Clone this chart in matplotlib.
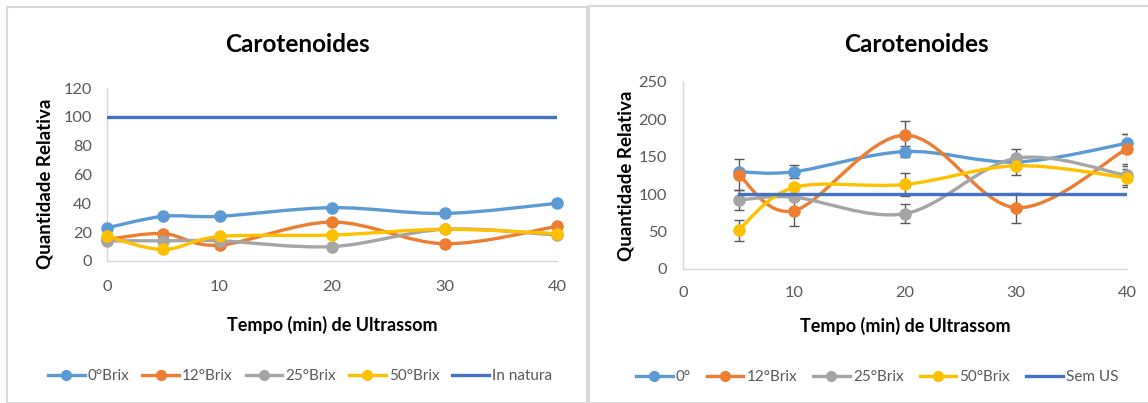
import numpy as np
import matplotlib
matplotlib.use("Agg")
import matplotlib.pyplot as plt
from matplotlib.path import Path
from matplotlib.patches import PathPatch, Rectangle
from matplotlib.lines import Line2D

plt.rcParams['font.family'] = ['Lato', 'DejaVu Sans']

# ---------------- data ----------------
title = "Carotenoides"
xlabel = "Tempo (min) de Ultrassom"
ylabel = "Quantidade Relativa"

left_x = [0, 5, 10, 20, 30, 40]
left_names = ["0°Brix", "12°Brix", "25°Brix", "50°Brix"]
left_vals = {
    "0°Brix": [23, 31, 31, 37, 33, 40],
    "12°Brix": [15, 19, 11, 27, 12, 24],
    "25°Brix": [14, 14, 14, 10, 22, 18],
    "50°Brix": [17, 8, 17, 18, 22, 19],
}
left_ref_name = "In natura"
left_ref_x = [0, 40]
left_ref_y = [100, 100]

right_x = [5, 10, 20, 30, 40]
right_names = ["0°", "12°Brix", "25°Brix", "50°Brix"]
right_vals = {
    "0°": [130, 130, 157, 143, 168],
    "12°Brix": [126, 78, 179, 82, 161],
    "25°Brix": [92, 96, 74, 148, 125],
    "50°Brix": [52, 109, 113, 138, 122],
}
right_err = {
    "0°": [4, 9, 7, 3, 13],
    "12°Brix": [21, 20, 19, 20, 20],
    "25°Brix": [13, 4, 13, 13, 13],
    "50°Brix": [14, 4, 15, 13, 12],
}
right_ref_name = "Sem US"
right_ref_x = [5, 40]
right_ref_y = [100, 100]

colors = ["#5B9BD5", "#ED7D31", "#A5A5A5", "#FFC000"]
ref_color = "#4472C4"
txt_gray = "#595959"
axis_gray = "#D9D9D9"

W, H = 1148, 403
fig = plt.figure(figsize=(W / 100, H / 100), dpi=100)

# panel borders
fig.patches.append(Rectangle((7 / W, 1 - 403 / H), 580 / W, 396 / H, transform=fig.transFigure,
                             fill=False, edgecolor=axis_gray, linewidth=1.5, zorder=0))
fig.patches.append(Rectangle((589 / W, 1 - 403 / H), 600 / W, 397 / H, transform=fig.transFigure,
                             fill=False, edgecolor=axis_gray, linewidth=1.5, zorder=0))


def ax_rect(x0, x1, ytop, ybot):
    return [x0 / W, 1 - ybot / H, (x1 - x0) / W, (ybot - ytop) / H]


def smooth(ax, xs, ys, color, lw=2.4, z=3):
    pts = ax.transData.transform(np.column_stack([xs, ys]))
    n = len(pts)
    verts = [pts[0]]
    codes = [Path.MOVETO]
    for i in range(n - 1):
        p0 = pts[i - 1] if i > 0 else pts[i]
        p1 = pts[i]
        p2 = pts[i + 1]
        p3 = pts[i + 2] if i + 2 < n else pts[i + 1]
        c1 = p1 + (p2 - p0) / 6.0
        c2 = p2 - (p3 - p1) / 6.0
        verts += [c1, c2, p2]
        codes += [Path.CURVE4] * 3
    verts = ax.transData.inverted().transform(np.array(verts))
    ax.add_patch(PathPatch(Path(verts, codes), facecolor="none", edgecolor=color,
                           linewidth=lw, zorder=z, capstyle="round", joinstyle="round"))


def style_axes(ax, xlim, ylim, yticks, xpad, ypad):
    ax.set_xlim(*xlim)
    ax.set_ylim(*ylim)
    ax.set_xticks([0, 10, 20, 30, 40])
    ax.set_yticks(yticks)
    for s in ["top", "right"]:
        ax.spines[s].set_visible(False)
    for s in ["left", "bottom"]:
        ax.spines[s].set_color(axis_gray)
        ax.spines[s].set_linewidth(1.0)
    ax.tick_params(axis="x", length=0, pad=xpad, labelsize=11.8, labelcolor=txt_gray)
    ax.tick_params(axis="y", length=0, pad=ypad, labelsize=11.8, labelcolor=txt_gray)
    ax.patch.set_alpha(0)


# ---------------- left chart ----------------
axL = fig.add_axes(ax_rect(107, 557, 88, 261))
style_axes(axL, (0, 40), (0, 120), [0, 20, 40, 60, 80, 100, 120], 14, 11)
for name, c in zip(left_names, colors):
    smooth(axL, left_x, left_vals[name], c)
    axL.plot(left_x, left_vals[name], linestyle="none", marker="o", markersize=8,
             color=c, zorder=4, clip_on=False)
axL.plot(left_ref_x, left_ref_y, color=ref_color, linewidth=2.4, zorder=5)

fig.text(297 / W, 1 - 45 / H, title, ha="center", va="center", fontsize=17.5, fontweight="bold")
fig.text(332 / W, 1 - 325 / H, xlabel, ha="center", va="center", fontsize=13, fontweight="bold")
fig.text(45 / W, 1 - 184 / H, ylabel, ha="center", va="center", rotation=90, fontsize=13.5,
         fontweight="bold")

hL = [Line2D([], [], color=c, lw=2.4, marker="o", markersize=7) for c in colors]
hL.append(Line2D([], [], color=ref_color, lw=2.4))
legL = fig.legend(hL, left_names + [left_ref_name], loc="center", ncol=5,
                  bbox_to_anchor=(300 / W, 1 - 376 / H), frameon=False, fontsize=11,
                  handlelength=2.4, handletextpad=0.2, columnspacing=0.85)
for t in legL.get_texts():
    t.set_color(txt_gray)

# ---------------- right chart ----------------
axR = fig.add_axes(ax_rect(683, 1127, 82, 269))
style_axes(axR, (0, 40), (0, 250), [0, 50, 100, 150, 200, 250], 12.5, 11.5)
for name, c in zip(right_names, colors):
    smooth(axR, right_x, right_vals[name], c)
    axR.errorbar(right_x, right_vals[name], yerr=right_err[name], fmt="none",
                 ecolor="#595959", elinewidth=1.0, capsize=3.5, capthick=1.0, zorder=3.5)
    axR.plot(right_x, right_vals[name], linestyle="none", marker="o", markersize=8,
             color=c, zorder=4, clip_on=False)
axR.plot(right_ref_x, right_ref_y, color=ref_color, linewidth=2.4, zorder=5)

fig.text(916 / W, 1 - 44 / H, title, ha="center", va="center", fontsize=17.5, fontweight="bold")
fig.text(905 / W, 1 - 326 / H, xlabel, ha="center", va="center", fontsize=13, fontweight="bold")
fig.text(626 / W, 1 - 176 / H, ylabel, ha="center", va="center", rotation=90, fontsize=13.5,
         fontweight="bold")

hR = [Line2D([], [], color=c, lw=2.4, marker="o", markersize=7) for c in colors]
hR.append(Line2D([], [], color=ref_color, lw=2.4))
legR = fig.legend(hR, right_names + [right_ref_name], loc="center", ncol=5,
                  bbox_to_anchor=(877 / W, 1 - 377 / H), frameon=False, fontsize=11,
                  handlelength=2.4, handletextpad=0.2, columnspacing=1.05)
for t in legR.get_texts():
    t.set_color(txt_gray)

fig.savefig("out.png", dpi=100)
